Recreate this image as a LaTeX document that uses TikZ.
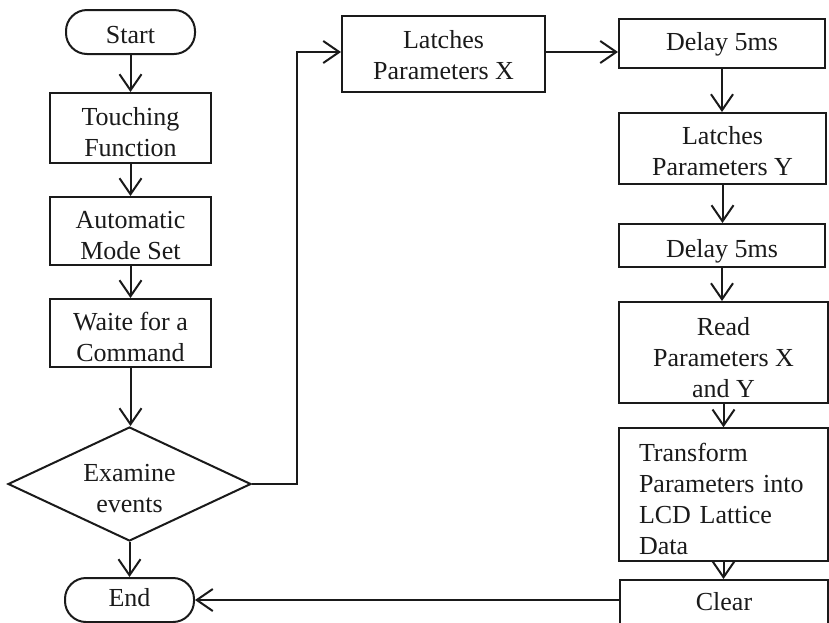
\documentclass[tikz,border=0pt]{standalone}
\usepackage{fontspec}
\setmainfont{Liberation Serif}
\usetikzlibrary{shapes.geometric,arrows.meta}
\definecolor{ink}{HTML}{1A1A1A}
\newcommand\fh[1]{\rule{0pt}{#1pt}}
\newcommand\ld{\rule[-6pt]{0pt}{6pt}}
\tikzset{
  base/.style={draw=ink, line width=2pt, text=ink, font=\fontsize{26}{31}\selectfont, inner sep=0pt, align=center},
  term/.style={base, rectangle, rounded corners=21pt, minimum width=129pt, minimum height=44pt},
  box/.style={base, rectangle},
  decide/.style={base, diamond, aspect=2.13, minimum width=243pt, minimum height=114pt},
  conn/.style={draw=ink, line width=2pt, -{Straight Barb[length=16pt,width=22pt,line width=2pt]}},
}
\begin{document}
\begin{tikzpicture}[x=1pt,y=-1pt]
\useasboundingbox (0,0) rectangle (829,622);
% left column
\node[term] (start) at (130.5,32) {\fh{28}Start\ld};
\node[box, minimum width=161pt, minimum height=70pt] (touch) at (130.5,128) {\fh{31}Touching\\Function\ld};
\node[box, minimum width=161pt, minimum height=68pt] (auto) at (130.5,231) {\fh{31}Automatic\\Mode Set\ld};
\node[box, minimum width=161pt, minimum height=68pt] (wait) at (130.5,333) {\fh{31}Waite for a\\Command\ld};
\node[decide] (dia) at (129.5,484) {\fh{31}Examine\\events\ld};
\node[term] (end) at (129.5,600) {End\ld};
% middle
\node[box, minimum width=203pt, minimum height=76pt] (latx) at (443.5,54) {\fh{25}Latches\\Parameters X\ld};
% right column
\node[box, minimum width=206pt, minimum height=49pt] (d1) at (722,43.5) {\fh{19}Delay 5ms\ld};
\node[box, minimum width=207pt, minimum height=71pt] (laty) at (722.5,148.5) {\fh{28}Latches\\Parameters Y\ld};
\node[box, minimum width=206pt, minimum height=43pt] (d2) at (722,245.5) {\fh{29}Delay 5ms\ld};
\node[box, minimum width=209pt, minimum height=99pt] (read) at (723.5,352.5) {\fh{33}Read\\Parameters X\\and Y\ld};
\node[box, align=left, text width=169pt, inner xsep=20pt, minimum height=129pt] (trans) at (723.5,494.5) {\fh{33.5}Transform\\Parameters into\\LCD Lattice\\Data\ld};
\node[box, minimum width=208pt, minimum height=46pt] (clear) at (724,603) {\fh{20}Clear\ld};
% connectors
\coordinate (b1) at (297,484);
\coordinate (b2) at (297,52);
\draw[conn] (start) -- (touch);
\draw[conn] (touch) -- (auto);
\draw[conn] (auto) -- (wait);
\draw[conn] (wait.south) -- (wait.south |- dia.north);
\draw[conn] (dia) -- (end);
\draw[conn] (dia.east) -- (b1) -- (b2) -- (latx.west |- b2);
\draw[conn] (latx.east |- b2) -- (d1.west |- b2);
\draw[conn] (d1.south) -- (d1.south |- laty.north);
\draw[conn] (laty.south) -- (laty.south |- d2.north);
\draw[conn] (d2.south) -- (d2.south |- read.north);
\draw[conn] (read.south) -- (read.south |- trans.north);
\draw[conn] (trans.south) -- (trans.south |- clear.north);
\draw[conn] (clear.west |- end) -- (end.east);
\end{tikzpicture}
\end{document}
